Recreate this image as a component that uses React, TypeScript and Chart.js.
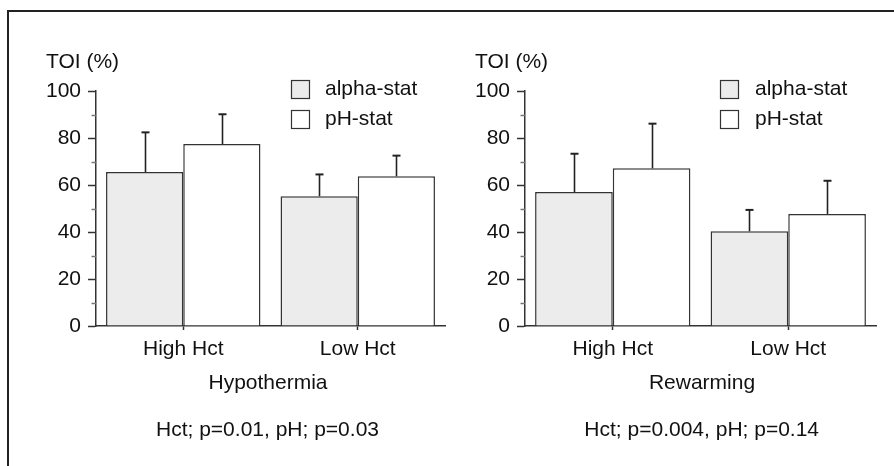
import React, { useEffect, useRef } from "react";
import { Chart, registerables } from "chart.js";

Chart.register(...registerables);

const categories = ["High Hct", "Low Hct"];
const seriesNames = ["alpha-stat", "pH-stat"];

const hypoAlpha = [65.5, 55.2];
const hypoAlphaErr = [16.9, 9.3];
const hypoPH = [77.4, 63.7];
const hypoPHErr = [12.7, 8.8];

const rewAlpha = [57.0, 40.3];
const rewAlphaErr = [16.3, 9.1];
const rewPH = [67.1, 47.7];
const rewPHErr = [19.0, 14.1];

const yTicks = [0, 20, 40, 60, 80, 100];
const yMinorTicks = [10, 30, 50, 70, 90];

const FONT = "'Liberation Sans', Arial, Helvetica, sans-serif";
const FS = 21;
const ALPHA_FILL = "#ececec";
const PH_FILL = "#ffffff";
const EDGE = "#333333";

type PanelCfg = {
  alpha: number[];
  alphaErr: number[];
  ph: number[];
  phErr: number[];
  title: string;
  stats: string;
  yAxisWidth: number;
  padRight: number;
  yLabelX: number;
  legendX: number;
  legendTextX: number;
  titleX: number;
  statsX: number;
};

function makeChart(canvas: HTMLCanvasElement, p: PanelCfg) {
  const errs = [p.alphaErr, p.phErr];
  const overlay = {
    id: "overlay",
    afterDatasetsDraw(chart: any) {
      const ctx = chart.ctx;
      const ys = chart.scales.y;
      const area = chart.chartArea;
      ctx.save();
      // minor ticks
      ctx.strokeStyle = "#777";
      ctx.lineWidth = 1.5;
      yMinorTicks.forEach((v) => {
        const y = Math.round(ys.getPixelForValue(v)) + 0.5;
        ctx.beginPath();
        ctx.moveTo(area.left - 4.5, y);
        ctx.lineTo(area.left, y);
        ctx.stroke();
      });
      // error bars
      ctx.strokeStyle = "#222";
      chart.data.datasets.forEach((ds: any, di: number) => {
        const meta = chart.getDatasetMeta(di);
        meta.data.forEach((bar: any, i: number) => {
          const top = ys.getPixelForValue(ds.data[i] + errs[di][i]);
          const x = Math.round(bar.x) + 0.5;
          ctx.lineWidth = 1.6;
          ctx.beginPath();
          ctx.moveTo(x, bar.y);
          ctx.lineTo(x, top);
          ctx.stroke();
          ctx.lineWidth = 2;
          ctx.beginPath();
          ctx.moveTo(x - 4, top);
          ctx.lineTo(x + 4, top);
          ctx.stroke();
        });
      });
      // texts
      ctx.fillStyle = "#111";
      ctx.font = `${FS}px ${FONT}`;
      ctx.textBaseline = "middle";
      ctx.textAlign = "left";
      ctx.fillText("TOI (%)", p.yLabelX, 62.5);
      // legend
      chart.data.datasets.forEach((ds: any, di: number) => {
        const by = 80 + di * 30;
        ctx.fillStyle = ds.backgroundColor;
        ctx.fillRect(p.legendX, by, 18, 18);
        ctx.strokeStyle = EDGE;
        ctx.lineWidth = 1.2;
        ctx.strokeRect(p.legendX + 0.5, by + 0.5, 18, 18);
        ctx.fillStyle = "#111";
        ctx.textAlign = "left";
        ctx.fillText(ds.label, p.legendTextX, by + 9.5);
      });
      ctx.textAlign = "center";
      ctx.fillText(p.title, p.titleX, 383);
      ctx.fillText(p.stats, p.statsX, 430);
      ctx.restore();
    },
  };

  return new Chart(canvas, {
    type: "bar",
    data: {
      labels: categories,
      datasets: [
        {
          label: seriesNames[0],
          data: p.alpha,
          backgroundColor: ALPHA_FILL,
          borderColor: EDGE,
          borderWidth: 1.5,
        },
        {
          label: seriesNames[1],
          data: p.ph,
          backgroundColor: PH_FILL,
          borderColor: EDGE,
          borderWidth: 1.5,
        },
      ],
    },
    options: {
      responsive: false,
      animation: false,
      events: [],
      layout: { padding: { top: 91, left: 0, right: p.padRight, bottom: 0 } },
      datasets: { bar: { categoryPercentage: 0.885, barPercentage: 1.0 } },
      plugins: { legend: { display: false }, tooltip: { enabled: false }, title: { display: false } },
      scales: {
        x: {
          type: "category",
          offset: true,
          grid: { display: true, offset: false, drawOnChartArea: false, tickLength: 4, tickColor: EDGE, tickWidth: 1.5 },
          border: { display: true, color: EDGE, width: 1.5 },
          ticks: { color: "#111", font: { family: FONT, size: FS }, padding: 7, maxRotation: 0 },
          afterFit: (s: any) => {
            s.height = 140;
          },
        },
        y: {
          min: 0,
          max: 100,
          afterBuildTicks: (s: any) => {
            s.ticks = yTicks.map((v) => ({ value: v }));
          },
          grid: { display: true, drawOnChartArea: false, tickLength: 8, tickColor: EDGE, tickWidth: 1.5 },
          border: { display: true, color: EDGE, width: 1.5 },
          ticks: { color: "#111", font: { family: FONT, size: FS }, padding: 7 },
          afterFit: (s: any) => {
            s.width = p.yAxisWidth;
          },
        },
      },
    },
    plugins: [overlay],
  } as any);
}

export default function App() {
  const leftRef = useRef<HTMLCanvasElement>(null);
  const rightRef = useRef<HTMLCanvasElement>(null);

  useEffect(() => {
    const c1 = makeChart(leftRef.current!, {
      alpha: hypoAlpha,
      alphaErr: hypoAlphaErr,
      ph: hypoPH,
      phErr: hypoPHErr,
      title: "Hypothermia",
      stats: "Hct; p=0.01, pH; p=0.03",
      yAxisWidth: 96,
      padRight: 2,
      yLabelX: 46,
      legendX: 291,
      legendTextX: 325,
      titleX: 268,
      statsX: 267.5,
    });
    const c2 = makeChart(rightRef.current!, {
      alpha: rewAlpha,
      alphaErr: rewAlphaErr,
      ph: rewPH,
      phErr: rewPHErr,
      title: "Rewarming",
      stats: "Hct; p=0.004, pH; p=0.14",
      yAxisWidth: 78,
      padRight: 18,
      yLabelX: 28,
      legendX: 273,
      legendTextX: 308,
      titleX: 255,
      statsX: 254.7,
    });
    return () => {
      c1.destroy();
      c2.destroy();
    };
  }, []);

  return (
    <div style={{ position: "absolute", left: 0, top: 0, width: 894, height: 466, background: "#fff", overflow: "hidden" }}>
      <canvas ref={leftRef} width={447} height={466} style={{ position: "absolute", left: 0, top: 0, width: 447, height: 466 }} />
      <canvas ref={rightRef} width={447} height={466} style={{ position: "absolute", left: 447, top: 0, width: 447, height: 466 }} />
      <div style={{ position: "absolute", left: 6.5, top: 10, width: 894, height: 466, borderTop: "2px solid #222", borderLeft: "2px solid #222", pointerEvents: "none" }} />
    </div>
  );
}
